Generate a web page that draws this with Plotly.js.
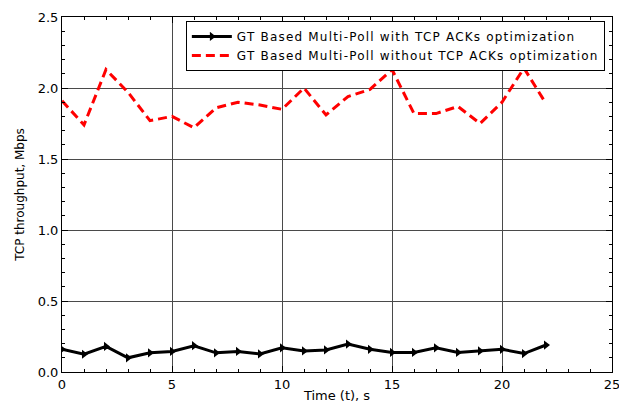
<!DOCTYPE html>
<html><head><meta charset="utf-8">
<script src="https://cdn.plot.ly/plotly-3.0.1.min.js"></script>
<style>html,body{margin:0;padding:0;background:#fff}#c{width:619px;height:403px}</style>
</head><body><div id="c"></div>
<script>
const timeS = [0,1,2,3,4,5,6,7,8,9,10,11,12,13,14,15,16,17,18,19,20,21,22];
const withAckOpt = [0.16,0.125,0.18,0.10,0.135,0.145,0.185,0.135,0.145,0.127,0.17,0.148,0.155,0.197,0.16,0.138,0.138,0.17,0.138,0.148,0.16,0.13,0.19];
const withoutAckOpt = [1.91,1.74,2.13,1.97,1.77,1.80,1.72,1.86,1.90,1.88,1.85,2.00,1.81,1.94,1.99,2.13,1.82,1.82,1.87,1.75,1.90,2.14,1.89];
const seriesNames = ['GT Based Multi-Poll with TCP ACKs optimization','GT Based Multi-Poll without TCP ACKs optimization'];
const font = 'DejaVu Sans, sans-serif';
const wide = s => '<span style="letter-spacing:1.2px">' + s + '</span>';
const data = [
  {x: timeS, y: withAckOpt, name: wide(seriesNames[0]), mode: 'lines+markers',
   line: {color: '#000', width: 3}, marker: {symbol: 'triangle-right', size: 8, color: '#000'}},
  {x: timeS, y: withoutAckOpt, name: wide(seriesNames[1]), mode: 'lines',
   line: {color: '#ff0000', width: 3, dash: '9px,5px'}}
];
const axBase = {showline: true, linecolor: '#000', linewidth: 1, mirror: 'allticks', ticks: 'inside', ticklen: 6, tickcolor: '#000',
  showgrid: true, gridcolor: '#4a4a4a', gridwidth: 1, zeroline: false, ticklabeloverflow: 'allow',
  tickfont: {family: font, size: 13, color: '#000'}};
const layout = {
  width: 619, height: 403, margin: {l: 62, r: 7, t: 17, b: 31},
  paper_bgcolor: '#fff', plot_bgcolor: '#fff', font: {family: font, color: '#000'},
  xaxis: Object.assign({}, axBase, {range: [0, 25], dtick: 5, tick0: 0,
    minor: {dtick: 1, ticks: 'inside', ticklen: 3, tickcolor: '#000', showgrid: false},
    title: {text: 'Time (t), s', font: {family: font, size: 13}, standoff: 1}}),
  yaxis: Object.assign({}, axBase, {range: [0, 2.5], dtick: 0.5, tick0: 0, tickformat: '.1f',
    minor: {dtick: 0.1, ticks: 'inside', ticklen: 3, tickcolor: '#000', showgrid: false},
    title: {text: 'TCP throughput, Mbps', font: {family: font, size: 12}, standoff: 10}}),
  legend: {x: 0.987, y: 0.989, xanchor: 'right', yanchor: 'top', bgcolor: '#fff', bordercolor: '#000', borderwidth: 1,
    font: {family: font, size: 12}, tracegroupgap: 0, itemwidth: 40},
  showlegend: true
};
Plotly.newPlot('c', data, layout, {displayModeBar: false, staticPlot: true});
</script></body></html>
